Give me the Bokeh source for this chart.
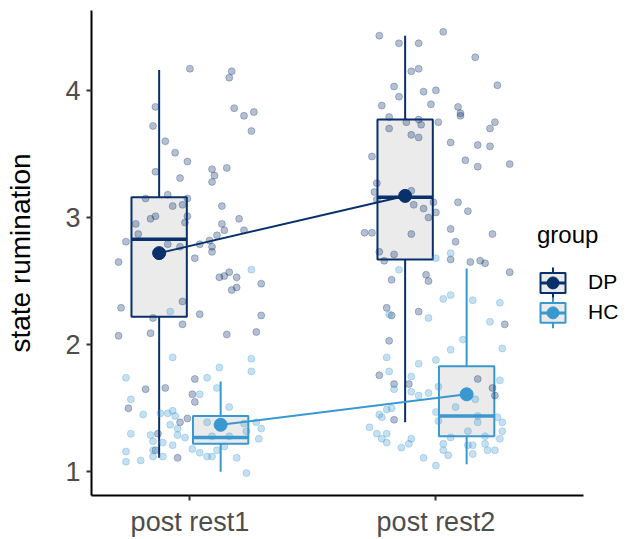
import numpy as np
from bokeh.plotting import figure
from bokeh.models import ColumnDataSource, Range1d, FixedTicker, Legend, LegendItem
from bokeh.embed import file_html
from bokeh.resources import INLINE

# ---------------- data ----------------
categories = ["post rest1", "post rest2"]
groups = ["DP", "HC"]

# box statistics per category (post rest1, post rest2)
dp_lower = [1.11, 1.39]
dp_q1 = [2.22, 2.67]
dp_median = [2.83, 3.16]
dp_q3 = [3.16, 3.77]
dp_upper = [4.16, 4.43]
dp_mean = [2.72, 3.17]

hc_lower = [1.00, 1.06]
hc_q1 = [1.22, 1.28]
hc_median = [1.27, 1.44]
hc_q3 = [1.44, 1.83]
hc_upper = [1.71, 2.60]
hc_mean = [1.37, 1.61]

# jittered raw observations: horizontal jitter (category units) and value
dp_rest1_jitter = [-0.00, 0.17, 0.16, -0.14, 0.18, 0.22, 0.26, -0.15, 0.25, -0.10, -0.06, -0.01, -0.14, -0.04,
                   0.09, 0.10, 0.09, 0.15, -0.18, -0.09, -0.01, 0.13, -0.07, -0.03, -0.16, -0.14, -0.22, -0.01,
                   -0.02, 0.20, 0.13, 0.14, 0.22, -0.21, 0.11, -0.26, -0.09, -0.04, 0.04, 0.08, 0.09, 0.09,
                   -0.29, 0.02, 0.12, 0.14, 0.16, 0.19, 0.17, 0.19, 0.29, -0.03, -0.28, -0.15, 0.04, -0.03,
                   0.29, -0.29, -0.16, 0.15, 0.27, 0.02, -0.18, -0.10, 0.01, 0.02, -0.25, -0.01, -0.04, -0.13,
                   -0.14, -0.05]
dp_rest1_value = [4.17, 4.15, 4.10, 3.87, 3.86, 3.80, 3.83, 3.72, 3.68, 3.60, 3.51, 3.44, 3.36, 3.31,
                  3.38, 3.33, 3.28, 3.39, 3.15, 3.18, 3.15, 3.09, 3.09, 3.10, 2.99, 3.01, 2.95, 3.01,
                  2.96, 2.99, 2.95, 2.90, 2.90, 2.87, 2.86, 2.81, 2.79, 2.77, 2.79, 2.82, 2.77, 2.73,
                  2.65, 2.68, 2.53, 2.54, 2.57, 2.53, 2.43, 2.45, 2.48, 2.34, 2.29, 2.21, 2.24, 2.16,
                  2.23, 2.07, 2.09, 2.08, 2.10, 1.73, 1.65, 1.66, 1.61, 1.55, 1.50, 1.42, 1.39, 1.30,
                  1.17, 1.11]

hc_rest1_jitter = [0.25, -0.08, -0.07, 0.25, 0.25, 0.12, -0.26, 0.07, 0.11, -0.24, 0.04, -0.19, 0.16, -0.12,
                   -0.09, -0.07, -0.08, -0.05, -0.24, -0.16, -0.15, -0.11, -0.05, -0.02, -0.07, -0.26, -0.26,
                   -0.20, -0.15, -0.11, -0.15, 0.01, 0.04, 0.07, 0.09, 0.11, 0.14, 0.19, 0.23, 0.07, 0.09,
                   0.16, 0.22, 0.23, 0.27, 0.29, 0.28, -0.06]
hc_rest1_value = [2.59, 2.26, 1.90, 1.89, 1.79, 1.82, 1.74, 1.74, 1.66, 1.57, 1.61, 1.45, 1.51, 1.46,
                  1.46, 1.48, 1.37, 1.34, 1.30, 1.29, 1.24, 1.23, 1.29, 1.27, 1.21, 1.16, 1.08,
                  1.09, 1.12, 1.12, 1.17, 1.18, 1.15, 1.12, 1.12, 1.17, 1.20, 1.11, 0.99, 1.39, 1.28,
                  1.28, 1.38, 1.32, 1.39, 1.34, 1.26, 1.44]

dp_rest2_jitter = [-0.23, 0.03, -0.15, -0.07, 0.16, -0.10, -0.07, 0.25, -0.17, -0.05, 0.00, -0.15, -0.22, -0.02,
                   0.09, 0.10, 0.10, -0.19, -0.12, -0.07, -0.06, 0.01, -0.19, -0.10, -0.07, 0.24, 0.22, 0.06,
                   0.17, 0.22, -0.26, 0.12, 0.17, 0.30, -0.24, -0.25, -0.24, -0.10, -0.09, -0.05, -0.03, -0.01,
                   0.09, 0.13, 0.00, -0.29, -0.26, -0.10, 0.06, 0.08, 0.23, -0.23, -0.21, -0.17, 0.06, 0.14,
                   0.18, 0.20, 0.30, -0.04, -0.03, -0.18, -0.20, -0.18, -0.07, 0.28, -0.19, -0.23, -0.17, -0.11,
                   -0.17, 0.17, 0.23, 0.24]
dp_rest2_value = [4.43, 4.46, 4.37, 4.37, 4.26, 4.15, 4.17, 4.04, 4.03, 3.99, 4.00, 3.95, 3.88, 3.89,
                  3.87, 3.82, 3.80, 3.79, 3.75, 3.77, 3.73, 3.75, 3.70, 3.65, 3.63, 3.75, 3.70, 3.59,
                  3.57, 3.56, 3.48, 3.45, 3.40, 3.42, 3.27, 3.20, 3.14, 3.21, 3.10, 3.07, 3.00, 3.12,
                  3.12, 3.05, 3.04, 2.88, 2.88, 2.87, 2.91, 2.81, 2.87, 2.73, 2.66, 2.71, 2.67, 2.65,
                  2.66, 2.64, 2.57, 2.55, 2.50, 2.51, 2.29, 2.23, 2.26, 2.16, 2.03, 1.76, 1.69, 1.69,
                  1.41, 1.73, 1.66, 1.60]

hc_rest2_jitter = [0.00, 0.06, -0.15, 0.03, 0.06, 0.15, 0.26, -0.03, 0.22, -0.19, 0.11, 0.06, 0.27, -0.20,
                   -0.19, -0.07, 0.00, -0.10, -0.17, -0.10, -0.07, -0.03, 0.01, 0.26, 0.16, 0.08, 0.00, -0.23,
                   -0.22, -0.20, -0.18, 0.01, 0.17, 0.17, 0.25, 0.27, -0.27, -0.24, -0.20, -0.22, -0.20, -0.10,
                   -0.11, -0.14, 0.13, 0.06, 0.03, 0.03, 0.05, -0.05, 0.00, 0.13, 0.15, 0.15, 0.20, 0.20,
                   0.21, 0.24, 0.26, 0.27]
hc_rest2_value = [2.68, 2.72, 2.59, 2.36, 2.39, 2.35, 2.33, 2.21, 2.18, 2.24, 2.04, 1.96, 1.97, 1.90,
                  1.79, 1.85, 1.88, 1.75, 1.65, 1.63, 1.60, 1.62, 1.67, 1.72, 1.57, 1.51, 1.47, 1.45,
                  1.43, 1.49, 1.50, 1.40, 1.44, 1.39, 1.43, 1.39, 1.35, 1.30, 1.30, 1.26, 1.23, 1.26,
                  1.22, 1.19, 1.32, 1.27, 1.22, 1.17, 1.13, 1.11, 1.05, 1.21, 1.21, 1.14, 1.28, 1.22,
                  1.17, 1.17, 1.26, 1.32]

# ---------------- styling ----------------
colors = {"DP": "#08306B", "HC": "#3A98D0"}
box_fill = "#EBEBEB"
dodge = {"DP": -0.125, "HC": 0.125}
box_width = 0.225
FONT = "Liberation Sans"

W, H = 628, 539
BORDER_L, BORDER_R, BORDER_T, BORDER_B = 91, 0, 10, 43
FRAME_W, FRAME_H = W - BORDER_L - BORDER_R, H - BORDER_T - BORDER_B

X_LO, X_HI = 0.6, 2.6          # extent of the x axis line
X_VIEW_HI = 2.783              # frame runs to the right edge so the legend is not clipped

p = figure(width=W, height=H, output_backend="svg", toolbar_location=None,
           x_range=Range1d(X_LO, X_VIEW_HI), y_range=Range1d(0.814, 4.628),
           min_border_left=BORDER_L, min_border_right=BORDER_R,
           min_border_top=BORDER_T, min_border_bottom=BORDER_B)
p.outline_line_color = None
p.xgrid.grid_line_color = None
p.ygrid.grid_line_color = None
p.background_fill_color = "white"
p.border_fill_color = "white"
# pixel space inside the frame, used only to draw the legend keys
p.extra_x_ranges = {"px": Range1d(0, FRAME_W)}
p.extra_y_ranges = {"px": Range1d(0, FRAME_H)}

cat_pos = np.arange(1, len(categories) + 1)

stats = {
    "DP": dict(lower=dp_lower, q1=dp_q1, median=dp_median, q3=dp_q3, upper=dp_upper, mean=dp_mean),
    "HC": dict(lower=hc_lower, q1=hc_q1, median=hc_median, q3=hc_q3, upper=hc_upper, mean=hc_mean),
}
raw = {
    "DP": [(dp_rest1_jitter, dp_rest1_value), (dp_rest2_jitter, dp_rest2_value)],
    "HC": [(hc_rest1_jitter, hc_rest1_value), (hc_rest2_jitter, hc_rest2_value)],
}

# boxplots
for g in groups:
    s = stats[g]
    xc = cat_pos + dodge[g]
    src = ColumnDataSource(dict(x=xc, left=xc - box_width / 2, right=xc + box_width / 2,
                                lower=s["lower"], q1=s["q1"], median=s["median"],
                                q3=s["q3"], upper=s["upper"]))
    p.segment(x0="x", y0="q3", x1="x", y1="upper", source=src, line_color=colors[g], line_width=2)
    p.segment(x0="x", y0="q1", x1="x", y1="lower", source=src, line_color=colors[g], line_width=2)
    p.quad(left="left", right="right", bottom="q1", top="q3", source=src,
           fill_color=box_fill, line_color=colors[g], line_width=2)
    p.segment(x0="left", y0="median", x1="right", y1="median", source=src,
              line_color=colors[g], line_width=3.5)

# jittered points
for g in groups:
    xs, ys = [], []
    for i, (jit, val) in enumerate(raw[g]):
        xs.extend(cat_pos[i] + np.array(jit))
        ys.extend(val)
    p.scatter(x=xs, y=ys, size=7, marker="circle", fill_color=colors[g], fill_alpha=0.3,
              line_color=colors[g], line_alpha=0.35, line_width=0.8)

# means connected by lines
for g in groups:
    xm = cat_pos + dodge[g]
    p.line(x=xm, y=stats[g]["mean"], line_color=colors[g], line_width=2)
    p.scatter(x=xm, y=stats[g]["mean"], size=13, marker="circle", fill_color=colors[g],
              line_color=colors[g])

# ---------------- legend ----------------
LEG_LEFT, LEG_BOTTOM, ROW_H = 446, 168, 30      # px from the frame's bottom-left corner
KEY_W = 31                                       # key slot width (label offset)
BOX_W, BOX_H, WHISK_H, DOT = 25, 20, 31, 12      # key drawing sizes in px

nan = [float("nan")]
blank = p.scatter(x=nan, y=nan, size=1, fill_alpha=0, line_alpha=0)   # key slot only
items = []
for row, g in enumerate(groups):
    c = colors[g]
    cx = LEG_LEFT + KEY_W / 2
    cy = LEG_BOTTOM + ROW_H * (len(groups) - row - 0.5)
    kw = dict(x_range_name="px", y_range_name="px")
    p.segment(x0=[cx], y0=[cy - WHISK_H / 2], x1=[cx], y1=[cy + WHISK_H / 2], line_color=c, line_width=2, **kw)
    p.quad(left=[cx - BOX_W / 2], right=[cx + BOX_W / 2], bottom=[cy - BOX_H / 2], top=[cy + BOX_H / 2],
           fill_color=box_fill, line_color=c, line_width=2, **kw)
    p.segment(x0=[cx - BOX_W / 2], y0=[cy], x1=[cx + BOX_W / 2], y1=[cy], line_color=c, line_width=3, **kw)
    p.scatter(x=[cx], y=[cy], marker="circle", size=DOT, fill_color=c, line_color=c, **kw)
    items.append(LegendItem(label=g, renderers=[blank]))

legend = Legend(items=items, location=(LEG_LEFT, LEG_BOTTOM), title="group",
                border_line_color=None, background_fill_alpha=0, padding=0, margin=0, spacing=0,
                glyph_width=KEY_W, glyph_height=25, label_height=ROW_H, label_standoff=20,
                label_text_font=FONT, label_text_font_size="21px", label_text_color="black",
                title_text_font=FONT, title_text_font_size="24px", title_text_font_style="normal",
                title_text_color="black", title_standoff=18)
p.add_layout(legend)

# ---------------- axes ----------------
p.xaxis.ticker = FixedTicker(ticks=list(cat_pos))
p.xaxis.major_label_overrides = {int(i): c for i, c in zip(cat_pos, categories)}
p.xaxis.bounds = (X_LO, X_HI)
p.yaxis.ticker = FixedTicker(ticks=[1, 2, 3, 4])
p.yaxis.axis_label = "state rumination"
for ax in (p.xaxis[0], p.yaxis[0]):
    ax.axis_line_color = "black"
    ax.axis_line_width = 2
    ax.major_tick_line_color = "#333333"
    ax.major_tick_line_width = 2
    ax.major_tick_out = 5
    ax.major_tick_in = 0
    ax.minor_tick_line_color = None
    ax.major_label_text_font = FONT
    ax.major_label_text_font_size = "27px"
    ax.major_label_text_color = "#4D4D4D"
    ax.major_label_standoff = 6
p.yaxis.axis_label_text_font = FONT
p.yaxis.axis_label_text_font_size = "28px"
p.yaxis.axis_label_text_font_style = "normal"
p.yaxis.axis_label_text_color = "black"
p.yaxis.axis_label_standoff = 26

open("out.html", "w").write(file_html(p, INLINE))
